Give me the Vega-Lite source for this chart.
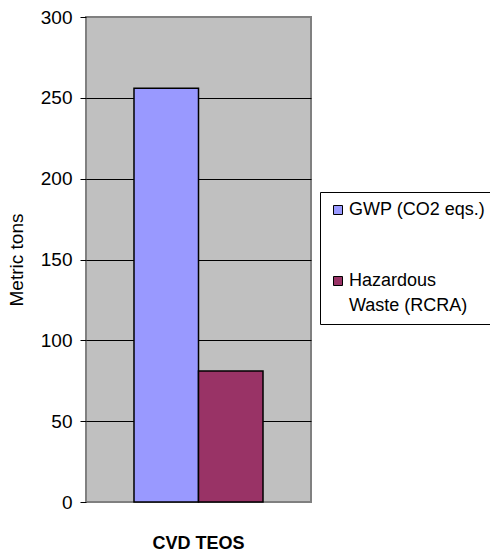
{
  "$schema": "https://vega.github.io/schema/vega-lite/v6.json",
  "width": 225,
  "height": 485,
  "autosize": "none",
  "padding": {"left": 86, "top": 17, "right": 179, "bottom": 53},
  "background": "white",
  "data": {
    "values": [
      {"cat": "CVD TEOS", "series": "GWP (CO2 eqs.)", "value": 256},
      {"cat": "CVD TEOS", "series": "Hazardous Waste (RCRA)", "value": 81}
    ]
  },
  "mark": {"type": "bar", "stroke": "black", "strokeWidth": 1.5},
  "encoding": {
    "x": {
      "field": "cat",
      "type": "nominal",
      "title": null,
      "scale": {"paddingInner": 0, "paddingOuter": 0.372},
      "axis": {
        "labelAngle": 0,
        "ticks": false,
        "domain": false,
        "labelFont": "Liberation Sans",
        "labelFontSize": 18,
        "labelFontWeight": "bold",
        "labelColor": "black",
        "labelPadding": 32
      }
    },
    "xOffset": {
      "field": "series",
      "type": "nominal",
      "scale": {"paddingInner": 0, "paddingOuter": 0}
    },
    "y": {
      "field": "value",
      "type": "quantitative",
      "title": "Metric tons",
      "scale": {"domain": [0, 300], "nice": false},
      "axis": {
        "values": [0, 50, 100, 150, 200, 250, 300],
        "domain": false,
        "tickColor": "black",
        "tickSize": 6,
        "labelPadding": 8,
        "labelFont": "Liberation Sans",
        "labelFontSize": 19,
        "labelColor": "black",
        "titleFont": "Liberation Sans",
        "titleFontSize": 19,
        "titleFontWeight": "normal",
        "titleColor": "black",
        "titlePadding": 14,
        "gridColor": {"condition": {"test": "datum.value == 0 || datum.value == 300", "value": "#808080"}, "value": "black"},
        "gridOpacity": 1
      }
    },
    "color": {
      "field": "series",
      "type": "nominal",
      "scale": {"domain": ["GWP (CO2 eqs.)", "Hazardous Waste (RCRA)"], "range": ["#9999ff", "#993366"]},
      "legend": {
        "title": null,
        "orient": "none",
        "legendX": 234,
        "legendY": 175,
        "fillColor": "white",
        "strokeColor": "black",
        "padding": 9,
        "symbolType": "square",
        "symbolSize": 81,
        "symbolStrokeColor": "black",
        "symbolStrokeWidth": 1,
        "symbolOpacity": 1,
        "labelFont": "Liberation Sans",
        "labelFontSize": 18,
        "labelColor": "black",
        "labelOffset": 2,
        "labelLimit": 300,
        "rowPadding": 53,
        "labelExpr": "datum.label == 'Hazardous Waste (RCRA)' ? ['Hazardous', 'Waste (RCRA)'] : datum.label"
      }
    }
  },
  "config": {
    "view": {"fill": "#c0c0c0", "stroke": "#808080", "strokeWidth": 2},
    "style": {"guide-label": {"lineHeight": 25}}
  }
}
